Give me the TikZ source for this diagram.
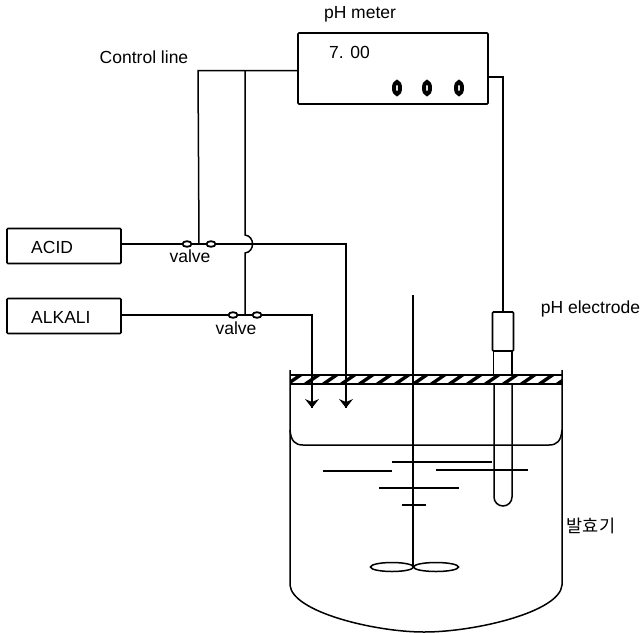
\documentclass[tikz,border=0pt]{standalone}
\usepackage{fontspec}
\setmainfont{Liberation Sans}
\newfontfamily\korfont{Noto Sans CJK KR}
\usetikzlibrary{arrows.meta,positioning}
\newcommand{\drawvalve}[1]{
                \draw [wire, line width=2pt] ([xshift=-9pt]#1) -- ([xshift=9pt]#1);
                \draw [wire, line width=1.8pt, fill=white] ([xshift=-12pt]#1) ellipse (4.5 and 2.8);
                \draw [wire, line width=1.8pt, fill=white] ([xshift=12pt]#1) ellipse (4.5 and 2.8);
}
\begin{document}
\begin{tikzpicture}[x=1pt,y=-1pt]
                \tikzstyle{every node}=[inner sep=0pt]
                \tikzstyle{wire}=[black, line width=1.5pt]
                \tikzstyle{wave}=[black, line width=1.3pt]
                \tikzstyle{box}=[draw=black, line width=1.6pt, rounded corners=1pt, inner sep=0pt]
                \tikzstyle{label}=[font=\fontsize{17.5}{20}\selectfont, anchor=base]
                \useasboundingbox (0,0) rectangle (644,632);
                \node [box, minimum width=114pt, minimum height=35pt] (acid) at (64,246) {};
                \node [box, minimum width=114pt, minimum height=35pt] (alkali) at (64,316) {};
                \node [box, minimum width=190pt, minimum height=71pt] (meter) at (393,68.5) {};
                \node [box, minimum width=21pt, minimum height=39pt] (cap) at (503,331.5) {};
                \node [label, anchor=base west] (acidtext) at (31,253) {ACID};
                \node [label, anchor=base west] (alkalitext) at (31,323) {ALKALI};
                \node [label] (metertext) at (360,18) {pH meter};
                \node [label] (controltext) at (144,63) {Control line};
                \node [label] (electrodetext) at (590.5,313) {pH electrode};
                \node [label] (readout) at (349.5,58) {7. 00};
                \node [label] (valvetextA) at (190,262) {valve};
                \node [label] (valvetextB) at (236,334) {valve};
                \node [label, font=\korfont\fontsize{17.5}{20}\selectfont] (tanktext) at (591,532) {발효기};
                \coordinate (valveA) at (199,244);
                \coordinate (valveB) at (245,315);
                \coordinate (ctrlA) at (198,70.5);
                \coordinate (ctrlB) at (245,70.5);
                \coordinate (bumpT) at (245,235);
                \coordinate (bumpB) at (245,253);
                \coordinate (acidcorner) at (346,244);
                \coordinate (acidtip) at (346,408);
                \coordinate (alkalicorner) at (312,315);
                \coordinate (alkalitip) at (312,408);
                \coordinate (metercorner) at (503,77);
                \draw [wire] (meter.west |- ctrlA) -- (ctrlA) -- (valveA);
                \draw [wire] (ctrlB) -- (bumpT) .. controls (255,236) and (255,252) .. (bumpB) -- (valveB);
                \draw [wire] (acid.east |- acidcorner) -- (acidcorner) -- (acidtip);
                \draw [wire] (alkali.east |- alkalicorner) -- (alkalicorner) -- (alkalitip);
                \draw [wire] (meter.east |- metercorner) -- (metercorner) -- (cap.north);
                \drawvalve{valveA}
                \drawvalve{valveB}
                \fill [black] (alkalitip) -- (305,399) -- (312,402) -- (319,399) -- cycle;
                \fill [black] (acidtip) -- (339,399) -- (346,402) -- (353,399) -- cycle;
                \foreach \knob in {397,427,459} {
                    \draw [black, line width=4pt] (\knob,88) ellipse (3 and 6);
                }
                \coordinate (lidNW) at (290,375);
                \coordinate (lidSE) at (562,384);
                \begin{scope}
                    \clip (lidNW) rectangle (lidSE);
                    \foreach \i in {0,...,15} {
                        \fill [black] (283+18*\i,385) -- (289+18*\i,385) -- (305+18*\i,374) -- (299+18*\i,374) -- cycle;
                    }
                \end{scope}
                \draw [wire] (lidNW) -- (lidNW -| lidSE);
                \draw [wire] (lidNW |- lidSE) -- (lidSE);
                \draw [wire] (290,370) -- (290,585) .. controls (292,612) and (375,632) .. (424,632) .. controls (475,632) and (560,612) .. (562,585) -- (562,370);
                \draw [wire] (290,430) .. controls (291,441) and (295,445) .. (303,445) -- (549,445) .. controls (557,445) and (561,441) .. (562,430);
                \coordinate (shafttop) at (413,295);
                \coordinate (hub) at (413,567);
                \draw [wire] (shafttop) -- (hub);
                \draw [wire] (392,567) ellipse (21.5 and 4.5);
                \draw [wire] (436,567) ellipse (22.5 and 4.5);
                \draw [wire] (cap.south -| 493.5,0) -- (493.5,375);
                \draw [wire] (cap.south -| 512,0) -- (512,375);
                \draw [wire] (494,384) -- (494,497) arc (180:0:9) -- (512,384);
                \draw [wave] (392,462) -- (492,462);
                \draw [wave] (323,471) -- (392,471);
                \draw [wave] (436,470) -- (528,470);
                \draw [wave] (379,488) -- (459,488);
                \draw [wave] (402,505) -- (426,505);
            \end{tikzpicture}
\end{document}
